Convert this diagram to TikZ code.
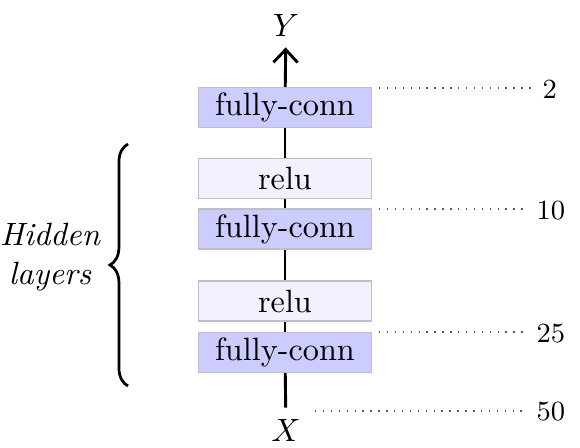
\documentclass[tikz,border=0pt]{standalone}
\usetikzlibrary{arrows.meta,decorations.pathreplacing}
\definecolor{fcfill}{RGB}{204,204,255}
\definecolor{relufill}{RGB}{242,242,255}
\definecolor{boxline}{RGB}{190,190,200}
\tikzset{
  layerbox/.style={draw=boxline, line width=0.4pt, minimum width=53.6pt, minimum height=12.4pt, inner sep=0pt},
  fcbox/.style={layerbox, fill=fcfill},
  relubox/.style={layerbox, fill=relufill},
  flow/.style={line width=0.9pt},
  dimline/.style={dotted, line width=0.45pt, gray!70!black, shorten >=3pt},
  dimlabel/.style={anchor=west, inner sep=0pt, font=\fontsize{8.6}{10}\selectfont}
}
\begin{document}
\begin{tikzpicture}[x=0.31pt,y=-0.31pt]
\useasboundingbox (0,0) rectangle (580,448);
% nodes
\node[fcbox]   (fc1) at (285,107.5) {fully-conn};
\node[relubox] (r1)  at (285,178.5) {relu};
\node[fcbox]   (fc2) at (285,229)   {fully-conn};
\node[relubox] (r2)  at (285,301)   {relu};
\node[fcbox]   (fc3) at (285,352.5) {fully-conn};
\node (Y) at (286,25) {$Y$};
\node (X) at (286,430) {$X$};
% flow connectors
\draw[flow] (X) -- (fc3);
\draw[flow] (fc3) -- (r2);
\draw[flow] (r2) -- (fc2);
\draw[flow] (fc2) -- (r1);
\draw[flow] (r1) -- (fc1);
\draw[flow,-{Straight Barb[length=4pt,width=7.5pt,line width=0.9pt]}] (fc1) -- (Y);
% dimension labels
\coordinate (d2s)  at (379,88);
\coordinate (d10s) at (379,209);
\coordinate (d25s) at (379,332);
\coordinate (d50s) at (315,411);
\node[dimlabel] (n2)  at (542,89)  {2};
\node[dimlabel] (n10) at (536,211) {10};
\node[dimlabel] (n25) at (536,334) {25};
\node[dimlabel] (n50) at (536,412) {50};
\draw[dimline] (d2s) -- (n2.west |- d2s);
\draw[dimline] (d10s) -- (n10.west |- d10s);
\draw[dimline] (d25s) -- (n25.west |- d25s);
\draw[dimline] (d50s) -- (n50.west |- d50s);
% brace
\coordinate (bb) at (128,386);
\coordinate (bt) at (128,144);
\draw[line width=0.85pt, decorate, decoration={brace, amplitude=5.6pt}] (bb) -- (bt);
\node[align=center, font=\itshape] (hid) at (50,257) {Hidden\\layers};
\end{tikzpicture}
\end{document}
